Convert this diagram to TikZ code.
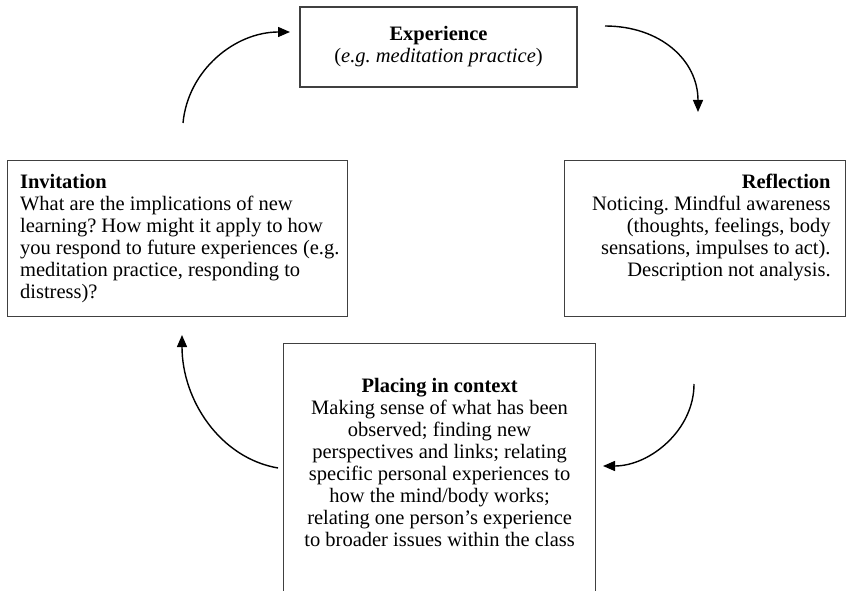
\documentclass[tikz,border=0pt]{standalone}
\usepackage{fontspec}
\setmainfont{Liberation Serif}
\frenchspacing
\usetikzlibrary{arrows.meta,positioning}

\tikzset{
  stage/.style={draw=black!75, line width=1.2pt, inner sep=0pt,
    font=\fontsize{20.5}{22}\selectfont},
  cyclearrow/.style={line width=1.4pt, -{Triangle[length=12pt,width=10pt]}}
}

\begin{document}
\begin{tikzpicture}[x=1pt,y=-1pt]
    \useasboundingbox (0,0) rectangle (848,591);
    \clip (0,0) rectangle (848,591);

    % Experience
    \node[stage, minimum width=277pt, minimum height=80pt, align=center] (exp) at (438.5,47)
        {\textbf{Experience}\\(\textit{e.g. meditation practice})};

    % Reflection
    \node[stage, anchor=north west, inner xsep=15pt, inner ysep=13.4pt] (refl) at (564,160)
        {\parbox[t][129.2pt][t]{251pt}{\raggedleft
        \textbf{Reflection}\\
        Noticing. Mindful awareness\\
        (thoughts, feelings, body\\
        sensations, impulses to act).\\
        Description not analysis.}};

    % Placing in context (runs off the bottom)
    \node[stage, anchor=north west, inner xsep=10pt, inner ysep=35pt] (ctx) at (283,343)
        {\parbox[t][230pt][t]{292pt}{\centering
        \textbf{Placing in context}\\
        Making sense of what has been\\
        observed; finding new\\
        perspectives and links; relating\\
        specific personal experiences to\\
        how the mind/body works;\\
        relating one person’s experience\\
        to broader issues within the class}};

    % Invitation
    \node[stage, anchor=north west, inner xsep=6.5pt, inner ysep=14pt] (inv) at (7,160)
        {\parbox[t][128pt][t]{327pt}{\raggedright\leftskip=6pt
        \textbf{Invitation}\\
        What are the implications of new\\
        learning? How might it apply to how\\
        you respond to future experiences (e.g.\\
        meditation practice, responding to\\
        distress)?}};

    % arrow ends
    \coordinate (a1s) at (183,123);
    \coordinate (a1e) at (290,32);
    \coordinate (a2s) at (605,26);
    \coordinate (a2e) at (698,112);
    \coordinate (a3s) at (694,384);
    \coordinate (a3e) at (603,466);
    \coordinate (a4s) at (278,468);
    \coordinate (a4e) at (182,335);

    % cycle
    \draw[cyclearrow] (a1s) .. controls (188,70) and (235,32) .. (a1e);
    \draw[cyclearrow] (a2s) .. controls (660,26) and (698,60) .. (a2e);
    \draw[cyclearrow] (a3s) .. controls (694,430) and (650,466) .. (a3e);
    \draw[cyclearrow] (a4s) .. controls (220,458) and (182,400) .. (a4e);

\end{tikzpicture}
\end{document}
